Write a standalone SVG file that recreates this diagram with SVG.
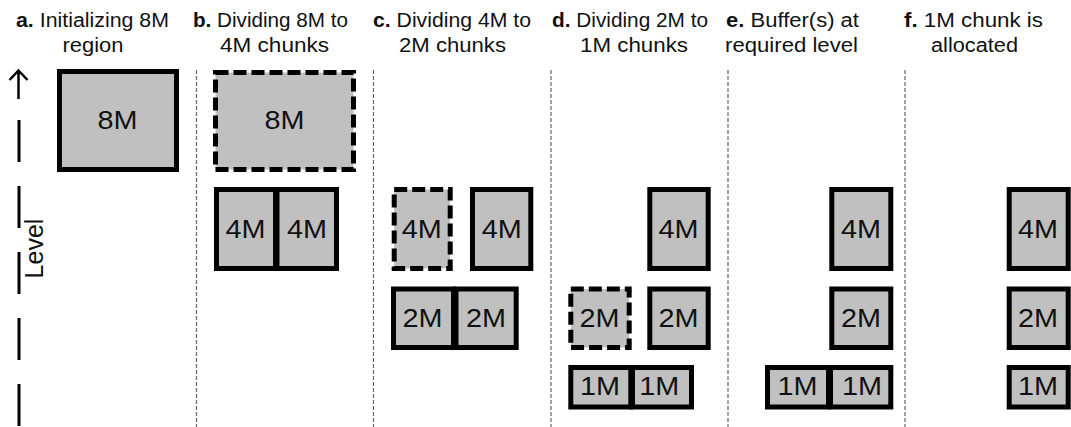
<svg xmlns="http://www.w3.org/2000/svg" width="1071" height="427" viewBox="0 0 1071 427">
<style>
.bx{fill:#c0c0c0;stroke:#000;stroke-width:5}
.ds{stroke-dasharray:13 5}
.lb{font-family:"Liberation Sans",Arial,sans-serif;font-size:26px;fill:#111;text-anchor:middle}
.hd{font-family:"Liberation Sans",Arial,sans-serif;font-size:19.5px;fill:#111;text-anchor:middle}
.hd tspan.b{font-weight:bold}
.sep{stroke:#666;stroke-width:1.2;stroke-dasharray:4 2;fill:none}
</style>
<rect width="1071" height="427" fill="#fff"/>
<g id="headers">
<text class="hd" x="92.5" y="27" textLength="153" lengthAdjust="spacingAndGlyphs"><tspan class="b">a.</tspan> Initializing 8M</text>
<text class="hd" x="93" y="52" textLength="61" lengthAdjust="spacingAndGlyphs">region</text>
<text class="hd" x="270.5" y="27" textLength="155" lengthAdjust="spacingAndGlyphs"><tspan class="b">b.</tspan> Dividing 8M to</text>
<text class="hd" x="274.5" y="52" textLength="109" lengthAdjust="spacingAndGlyphs">4M chunks</text>
<text class="hd" x="452" y="27" textLength="158" lengthAdjust="spacingAndGlyphs"><tspan class="b">c.</tspan> Dividing 4M to</text>
<text class="hd" x="452.5" y="52" textLength="107" lengthAdjust="spacingAndGlyphs">2M chunks</text>
<text class="hd" x="630" y="27" textLength="156" lengthAdjust="spacingAndGlyphs"><tspan class="b">d.</tspan> Dividing 2M to</text>
<text class="hd" x="634" y="52" textLength="108" lengthAdjust="spacingAndGlyphs">1M chunks</text>
<text class="hd" x="792.5" y="27" textLength="133" lengthAdjust="spacingAndGlyphs"><tspan class="b">e.</tspan> Buffer(s) at</text>
<text class="hd" x="791.5" y="52" textLength="133" lengthAdjust="spacingAndGlyphs">required level</text>
<text class="hd" x="973.5" y="27" textLength="139" lengthAdjust="spacingAndGlyphs"><tspan class="b">f.</tspan> 1M chunk is</text>
<text class="hd" x="974.5" y="52" textLength="87" lengthAdjust="spacingAndGlyphs">allocated</text>
</g>
<g id="axis">
<path d="M18.5,99 V71 M9.5,80 L18.5,70.5 L27.5,80" fill="none" stroke="#000" stroke-width="2.5"/>
<line x1="19" y1="120" x2="19" y2="427" stroke="#000" stroke-width="3" stroke-dasharray="42 24"/>
<text transform="translate(43,248.5) rotate(-90)" x="0" y="0" style="font-family:'Liberation Sans',Arial,sans-serif;font-size:25px;fill:#111;text-anchor:middle">Level</text>
</g>
<g id="separators">
<line class="sep" x1="196.5" y1="70" x2="196.5" y2="427"/>
<line class="sep" x1="373.5" y1="70" x2="373.5" y2="427"/>
<line class="sep" x1="551" y1="70" x2="551" y2="427"/>
<line class="sep" x1="728" y1="70" x2="728" y2="427"/>
<line class="sep" x1="905" y1="70" x2="905" y2="427"/>
</g>
<g id="col-a">
<g id="a-8M"><rect class="bx" x="59.5" y="71.5" width="117" height="98"/><text class="lb" x="117.5" y="129.2" textLength="40" lengthAdjust="spacingAndGlyphs">8M</text></g>
</g>
<g id="col-b">
<g id="b-8M"><rect class="bx ds" x="215.5" y="72.5" width="138" height="97"/><text class="lb" x="284.5" y="129.2" textLength="40" lengthAdjust="spacingAndGlyphs">8M</text></g>
<g id="b-4M-1"><rect class="bx" x="216.5" y="189.5" width="59" height="79"/><text class="lb" x="245.5" y="238" textLength="40" lengthAdjust="spacingAndGlyphs">4M</text></g>
<g id="b-4M-2"><rect class="bx" x="277" y="189.5" width="59.5" height="79"/><text class="lb" x="307" y="238" textLength="40" lengthAdjust="spacingAndGlyphs">4M</text></g>
</g>
<g id="col-c">
<g id="c-4M-1"><rect class="bx ds" x="394.2" y="189.5" width="56" height="79"/><text class="lb" x="421.7" y="238" textLength="40" lengthAdjust="spacingAndGlyphs">4M</text></g>
<g id="c-4M-2"><rect class="bx" x="472.5" y="189.5" width="58.3" height="79"/><text class="lb" x="501.7" y="238" textLength="40" lengthAdjust="spacingAndGlyphs">4M</text></g>
<g id="c-2M-1"><rect class="bx" x="393.5" y="289" width="60" height="58.5"/><text class="lb" x="422.5" y="327" textLength="40" lengthAdjust="spacingAndGlyphs">2M</text></g>
<g id="c-2M-2"><rect class="bx" x="456" y="289" width="60.2" height="58.5"/><text class="lb" x="486" y="327" textLength="40" lengthAdjust="spacingAndGlyphs">2M</text></g>
</g>
<g id="col-d">
<g id="d-4M"><rect class="bx" x="649.8" y="189.5" width="58.4" height="79"/><text class="lb" x="678.5" y="238" textLength="40" lengthAdjust="spacingAndGlyphs">4M</text></g>
<g id="d-2M-1"><rect class="bx ds" x="570.8" y="289" width="58.4" height="58.5"/><text class="lb" x="599.5" y="327" textLength="40" lengthAdjust="spacingAndGlyphs">2M</text></g>
<g id="d-2M-2"><rect class="bx" x="649.8" y="289" width="58.4" height="58.5"/><text class="lb" x="678.5" y="327" textLength="40" lengthAdjust="spacingAndGlyphs">2M</text></g>
<g id="d-1M-1"><rect class="bx" x="570.8" y="367.5" width="60" height="39.5"/><text class="lb" x="600" y="395" textLength="40" lengthAdjust="spacingAndGlyphs">1M</text></g>
<g id="d-1M-2"><rect class="bx" x="632.5" y="367.5" width="59" height="39.5"/><text class="lb" x="659.3" y="395" textLength="40" lengthAdjust="spacingAndGlyphs">1M</text></g>
</g>
<g id="col-e">
<g id="e-4M"><rect class="bx" x="831.8" y="189.5" width="59" height="79"/><text class="lb" x="861" y="238" textLength="40" lengthAdjust="spacingAndGlyphs">4M</text></g>
<g id="e-2M"><rect class="bx" x="831.8" y="289" width="59" height="58.5"/><text class="lb" x="861" y="327" textLength="40" lengthAdjust="spacingAndGlyphs">2M</text></g>
<g id="e-1M-1"><rect class="bx" x="767.5" y="367.5" width="61" height="39.5"/><text class="lb" x="797.5" y="395" textLength="40" lengthAdjust="spacingAndGlyphs">1M</text></g>
<g id="e-1M-2"><rect class="bx" x="830.5" y="367.5" width="60.3" height="39.5"/><text class="lb" x="862" y="395" textLength="40" lengthAdjust="spacingAndGlyphs">1M</text></g>
</g>
<g id="col-f">
<g id="f-4M"><rect class="bx" x="1009.2" y="189.5" width="59" height="79"/><text class="lb" x="1038" y="238" textLength="40" lengthAdjust="spacingAndGlyphs">4M</text></g>
<g id="f-2M"><rect class="bx" x="1009.2" y="289" width="59" height="58.5"/><text class="lb" x="1038" y="327" textLength="40" lengthAdjust="spacingAndGlyphs">2M</text></g>
<g id="f-1M"><rect class="bx" x="1009.2" y="367.5" width="59" height="39.5"/><text class="lb" x="1038" y="395" textLength="40" lengthAdjust="spacingAndGlyphs">1M</text></g>
</g>
</svg>
